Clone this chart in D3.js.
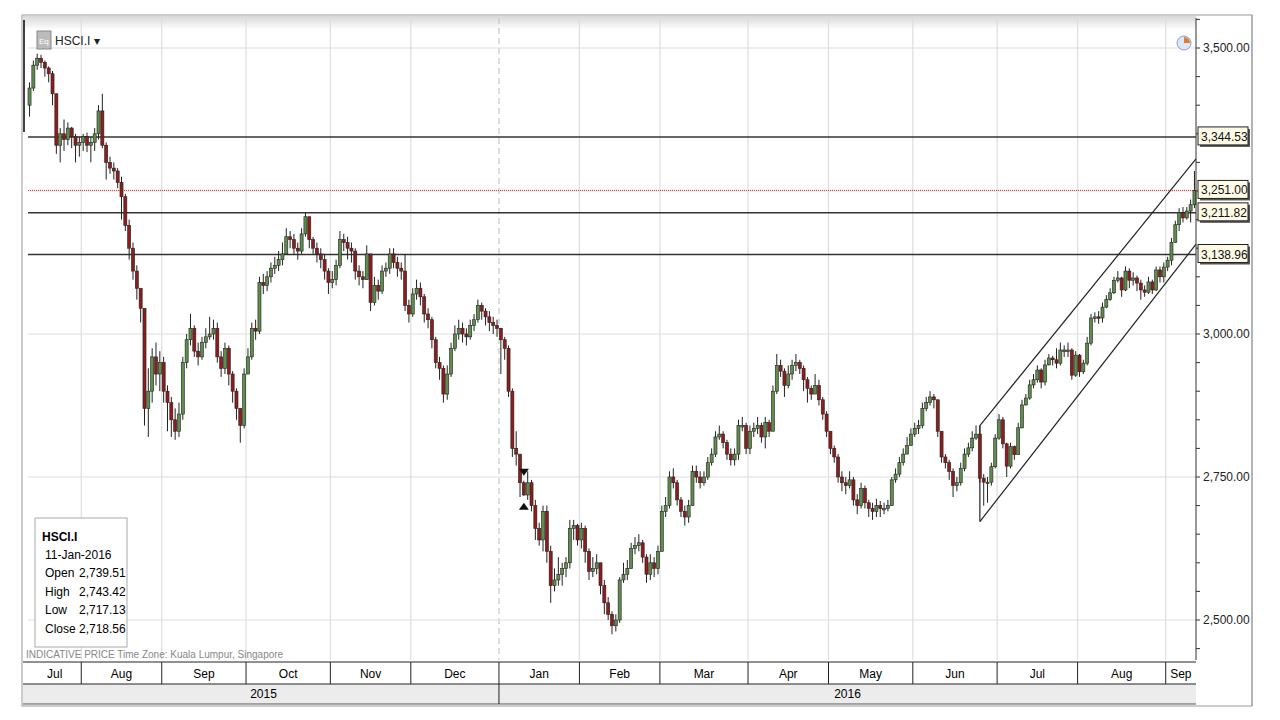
<!DOCTYPE html>
<html><head><meta charset="utf-8">
<script src="https://cdn.jsdelivr.net/npm/d3@7"></script>
<style>body{margin:0;background:#fff}text{font-family:"Liberation Sans Narrow","Liberation Sans",sans-serif}</style>
</head><body><svg id="c" width="1280" height="720"></svg>
<script>
// [close, high, low] per trading day, month by month
const jul15=[[3430,3440,3380],[3470,3478,3425],[3482,3490,3462],[3475,3488,3465],[3465,3478,3450],[3455,3468,3440],[3420,3460,3400],[3330,3420,3315],[3350,3360,3300],[3340,3375,3320],[3360,3370,3330],[3345,3362,3325],[3330,3350,3300],[3335,3345,3310]];
const aug15=[[3345,3350,3320],[3330,3352,3318],[3335,3345,3300],[3350,3360,3320],[3390,3400,3340],[3330,3420,3325],[3300,3335,3270],[3290,3310,3280],[3285,3300,3270],[3265,3290,3255],[3240,3275,3200],[3190,3245,3180],[3150,3200,3130],[3110,3160,3095],[3080,3120,3060],[3045,3060,3020],[2870,2960,2840],[2900,2940,2820],[2960,2975,2880],[2930,2985,2910],[2950,2970,2900]];
const sep15=[[2900,2960,2880],[2880,2910,2830],[2850,2890,2820],[2830,2870,2815],[2860,2880,2820],[2950,2960,2850],[2990,3000,2940],[3010,3035,2980],[2970,3015,2960],[2960,2985,2945],[2985,2995,2955],[2995,3010,2975],[3000,3030,2990],[3010,3025,2990],[2960,3020,2950],[2940,2970,2925],[2975,2985,2930],[2930,2980,2910],[2900,2935,2880],[2870,2905,2850],[2840,2870,2810],[2930,2940,2835]];
const oct15=[[2960,2975,2930],[3010,3020,2955],[3005,3025,2990],[3090,3100,3000],[3085,3105,3070],[3100,3110,3075],[3115,3125,3090],[3120,3135,3105],[3130,3145,3110],[3140,3160,3120],[3170,3185,3140],[3165,3180,3150],[3150,3175,3140],[3145,3160,3130],[3175,3185,3140],[3205,3212,3170],[3165,3205,3150],[3150,3170,3140],[3140,3160,3125],[3130,3150,3115],[3110,3140,3095],[3090,3115,3070]];
const nov15=[[3095,3110,3080],[3120,3130,3085],[3165,3180,3115],[3160,3175,3145],[3150,3170,3130],[3145,3160,3125],[3110,3150,3095],[3100,3120,3085],[3095,3110,3080],[3140,3155,3095],[3055,3090,3040],[3085,3100,3050],[3075,3095,3060],[3110,3120,3070],[3115,3125,3100],[3140,3150,3105],[3125,3150,3115],[3115,3135,3100],[3110,3125,3095],[3050,3140,3040],[3035,3060,3020]];
const dec15=[[3070,3080,3030],[3080,3095,3060],[3065,3090,3050],[3035,3070,3020],[3025,3045,3010],[2990,3030,2975],[2950,2995,2940],[2940,2960,2920],[2895,2945,2880],[2930,2945,2885],[2975,2985,2925],[3000,3015,2970],[3010,3025,2990],[3000,3020,2985],[2995,3010,2980],[3015,3025,2990],[3025,3035,3005],[3050,3060,3020],[3040,3055,3025],[3030,3045,3015],[3020,3040,3005],[3015,3030,3000],[3010,3025,2995]];
const jan16=[[2990,3010,2930],[2975,2995,2955],[2900,2980,2890],[2800,2905,2785],[2790,2830,2770],[2740,2760,2715],[2718.56,2743.42,2717.13],[2740,2760,2710],[2700,2745,2690],[2660,2710,2640],[2640,2670,2630],[2690,2700,2620],[2620,2700,2600],[2560,2630,2530],[2570,2590,2550],[2580,2610,2560],[2590,2600,2560],[2600,2610,2575],[2660,2675,2590],[2665,2675,2640],[2640,2668,2630]];
const feb16=[[2660,2670,2625],[2620,2665,2600],[2585,2625,2570],[2590,2610,2575],[2600,2615,2580],[2560,2600,2545],[2530,2570,2510],[2510,2540,2500],[2490,2515,2475],[2500,2510,2480],[2570,2575,2495],[2580,2600,2565],[2590,2605,2570],[2625,2635,2590],[2630,2645,2615],[2635,2650,2620],[2610,2640,2600],[2580,2615,2565],[2600,2615,2570],[2590,2610,2575],[2620,2630,2580]];
const mar16=[[2690,2700,2620],[2700,2715,2680],[2750,2760,2695],[2740,2765,2730],[2710,2745,2700],[2690,2715,2680],[2680,2700,2665],[2700,2710,2670],[2760,2770,2700],[2750,2770,2740],[2740,2760,2730],[2750,2760,2735],[2775,2785,2745],[2790,2800,2770],[2820,2830,2785],[2825,2840,2815],[2810,2830,2800],[2790,2815,2780],[2780,2800,2770],[2790,2800,2770],[2840,2850,2780],[2840,2855,2830],[2800,2845,2790]];
const apr16=[[2830,2840,2790],[2835,2845,2820],[2840,2855,2825],[2820,2845,2810],[2845,2855,2800],[2830,2850,2820],[2900,2910,2830],[2945,2965,2895],[2935,2955,2925],[2910,2940,2890],[2930,2945,2905],[2945,2955,2920],[2950,2965,2935],[2940,2955,2930],[2920,2945,2900],[2905,2925,2880],[2895,2910,2885],[2910,2930,2895],[2885,2920,2875],[2860,2890,2850],[2830,2865,2820]];
const may16=[[2800,2830,2790],[2785,2805,2775],[2750,2790,2740],[2740,2760,2725],[2735,2750,2720],[2745,2760,2730],[2710,2750,2700],[2700,2720,2685],[2730,2740,2695],[2705,2735,2695],[2695,2710,2680],[2690,2705,2675],[2700,2712,2680],[2695,2708,2680],[2695,2705,2685],[2700,2710,2690],[2745,2750,2700],[2755,2765,2740],[2775,2785,2750],[2790,2800,2770],[2805,2820,2795],[2825,2835,2805]];
const jun16=[[2835,2845,2820],[2840,2850,2825],[2870,2880,2835],[2880,2890,2865],[2890,2900,2875],[2885,2895,2870],[2830,2885,2820],[2785,2830,2775],[2775,2790,2765],[2760,2780,2745],[2735,2765,2715],[2740,2750,2725],[2765,2775,2735],[2790,2800,2760],[2801,2810,2785],[2818,2830,2795],[2825,2840,2815],[2748,2840,2740],[2741,2755,2700],[2741,2750,2705],[2768,2775,2735],[2818,2825,2765]];
const jul16=[[2850,2860,2815],[2808,2855,2800],[2769,2810,2750],[2803,2810,2765],[2789,2805,2780],[2836,2845,2790],[2876,2885,2835],[2888,2895,2875],[2911,2920,2885],[2920,2930,2905],[2937,2945,2915],[2916,2940,2905],[2946,2955,2910],[2958,2965,2945],[2955,2962,2945],[2949,2975,2940],[2972,2985,2945],[2972,2980,2960],[2972,2985,2960],[2928,2975,2920],[2963,2970,2925]];
const aug16=[[2934,2965,2925],[2949,2955,2930],[2984,2995,2945],[3028,3035,2980],[3030,3038,3020],[3028,3040,3018],[3047,3055,3020],[3060,3068,3045],[3072,3080,3058],[3094,3100,3070],[3098,3110,3090],[3077,3100,3065],[3110,3118,3075],[3094,3115,3080],[3098,3108,3085],[3089,3102,3075],[3077,3095,3060],[3073,3085,3065],[3091,3100,3070],[3077,3095,3070],[3112,3118,3075],[3100,3118,3090],[3117,3125,3090]];
const sep16=[[3129,3135,3110],[3160,3168,3120],[3191,3198,3160],[3212,3220,3180],[3203,3222,3195],[3215,3222,3200],[3226,3235,3195],[3251,3285,3220]];
const firstOpen=3400;
const levels=[3344.53,3211.82,3138.96];
const lastPrice=3251.00;
const yTicks=[2500,2750,3000,3250,3500];
const yTickLabels=["2,500.00","2,750.00","3,000.00","","3,500.00"];
const channelUpper=[["2016-06-24",2840],["2016-09-13",3306]];
const channelLower=[["2016-06-24",2672],["2016-09-13",3157]];
const info=[["Open","2,739.51"],["High","2,743.42"],["Low","2,717.13"],["Close","2,718.56"]];

const months=[jul15,aug15,sep15,oct15,nov15,dec15,jan16,feb16,mar16,apr16,may16,jun16,jul16,aug16,sep16];
// trading dates (weekdays)
const dates=[];
for(let d=new Date(2015,6,14);d<=new Date(2016,8,12);d=new Date(d.getFullYear(),d.getMonth(),d.getDate()+1)){const w=d.getDay();if(w>0&&w<6)dates.push(d);}
const flat=months.flat();
const data=flat.map((r,i)=>({date:dates[i],c:r[0],h:r[1],l:r[2],o:i?flat[i-1][0]:firstOpen}));

const L=28,R=1196,T=18,B=660;
const svg=d3.select("#c");
const x=d3.scaleBand().domain(d3.range(data.length)).range([L,R]).paddingInner(0.2);
const y=d3.scaleLinear().domain([2500,3500]).range([620,48]);
const cx=i=>x(i)+x.bandwidth()/2;
// frame
svg.append("rect").attr("x",22).attr("y",15).attr("width",1230).attr("height",691).attr("fill","#fff").attr("stroke","#9a9a9a");
const grad=svg.append("defs").append("linearGradient").attr("id","hg").attr("x1",0).attr("y1",0).attr("x2",0).attr("y2",1);
grad.append("stop").attr("offset",0).attr("stop-color","#d8d8d8");grad.append("stop").attr("offset",1).attr("stop-color","#fff");
svg.append("rect").attr("x",23).attr("y",16).attr("width",1173).attr("height",14).attr("fill","url(#hg)");
svg.append("line").attr("x1",24).attr("x2",24).attr("y1",20).attr("y2",132).attr("stroke","#000").attr("stroke-width",1.5);
// month boundaries
const monthStarts=[];data.forEach((d,i)=>{if(i===0||d.date.getMonth()!==data[i-1].date.getMonth())monthStarts.push(i);});
const bx=i=>i===0?L:x(i)-x.step()*0.1;
const g=svg.append("g");
monthStarts.slice(1).forEach(i=>{const yr=data[i].date.getMonth()===0;g.append("line").attr("x1",bx(i)).attr("x2",bx(i)).attr("y1",T).attr("y2",B).attr("stroke",yr?"#c8c8c8":"#dedede").attr("stroke-width",1.2).attr("stroke-dasharray",yr?"6,4":null);});
yTicks.forEach(t=>g.append("line").attr("x1",L).attr("x2",R).attr("y1",y(t)).attr("y2",y(t)).attr("stroke","#dedede").attr("stroke-width",1.2));
// level lines
levels.forEach(v=>g.append("line").attr("x1",L).attr("x2",R).attr("y1",y(v)).attr("y2",y(v)).attr("stroke","#333").attr("stroke-width",1.5));
g.append("line").attr("x1",L).attr("x2",R).attr("y1",y(lastPrice)).attr("y2",y(lastPrice)).attr("stroke","#e03030").attr("stroke-width",1).attr("stroke-dasharray","1,1");
// channel
const parse=d3.timeParse("%Y-%m-%d");
const xd=s=>{const t=parse(s);let i=d3.bisector(d=>d.date).left(data,t);return i>=data.length?R:cx(i);};
[channelUpper,channelLower].forEach(c=>g.append("line").attr("x1",xd(c[0][0])).attr("y1",y(c[0][1])).attr("x2",xd(c[1][0])).attr("y2",y(c[1][1])).attr("stroke","#222").attr("stroke-width",1.2));
g.append("line").attr("x1",xd(channelUpper[0][0])).attr("x2",xd(channelUpper[0][0])).attr("y1",y(channelUpper[0][1])).attr("y2",y(channelLower[0][1])).attr("stroke","#222").attr("stroke-width",1.2);
// candles
const cg=svg.append("g");
data.forEach((d,i)=>{
  cg.append("line").attr("x1",cx(i)).attr("x2",cx(i)).attr("y1",y(d.h)).attr("y2",y(d.l)).attr("stroke","#222").attr("stroke-width",1);
  const top=y(Math.max(d.o,d.c)),bot=y(Math.min(d.o,d.c));
  cg.append("rect").attr("x",x(i)).attr("width",x.bandwidth()).attr("y",top).attr("height",Math.max(1.5,bot-top))
   .attr("fill",d.c>=d.o?"#5e8d4c":"#8e1c1c").attr("stroke","#222").attr("stroke-width",0.6);
});
// markers on 11-Jan
const mi=data.findIndex(d=>d.date.getFullYear()===2016&&d.date.getMonth()===0&&d.date.getDate()===11);
const mx=cx(mi);
svg.append("path").attr("d",`M${mx-5},${y(data[mi].h)-12}h10l-5,7z`).attr("fill","#111");
svg.append("path").attr("d",`M${mx-5},${y(data[mi].l)+14}h10l-5,-7z`).attr("fill","#111");
// right axis
const ax=svg.append("g");
ax.append("line").attr("x1",R).attr("x2",R).attr("y1",T).attr("y2",B).attr("stroke","#333");
d3.range(2450,3551,50).forEach(t=>{if(y(t)>T&&y(t)<B)ax.append("line").attr("x1",R).attr("x2",R+4).attr("y1",y(t)).attr("y2",y(t)).attr("stroke","#333");});
yTicks.forEach((t,k)=>{if(yTickLabels[k])ax.append("text").attr("x",R+7).attr("y",y(t)+4).attr("font-size",12).attr("fill","#222").text(yTickLabels[k]);});
levels.concat([lastPrice]).forEach(v=>{
  const yy=y(v);
  ax.append("rect").attr("x",R+4).attr("y",yy-8).attr("width",50).attr("height",18).attr("fill","#555");
  ax.append("rect").attr("x",R+2).attr("y",yy-10).attr("width",50).attr("height",18).attr("fill","#fffbe6").attr("stroke","#222");
  ax.append("text").attr("x",R+5).attr("y",yy+4).attr("font-size",12).attr("fill","#111").text(d3.format(",.2f")(v));
});
svg.append("line").attr("x1",1252).attr("x2",1252).attr("y1",15).attr("y2",706).attr("stroke","#9a9a9a");
// clock icon
svg.append("circle").attr("cx",1184).attr("cy",43).attr("r",7).attr("fill","#dde6f4").attr("stroke","#8aa0c8");
svg.append("path").attr("d","M1184,43V37A6,6 0 0 1 1190,43Z").attr("fill","#e07a3a");
// title
svg.append("rect").attr("x",37).attr("y",31).attr("width",14).attr("height",18).attr("fill","#bbb").attr("stroke","#888");
svg.append("text").attr("x",39).attr("y",44).attr("font-size",8).attr("fill","#fff").text("Eq");
svg.append("text").attr("x",55).attr("y",45).attr("font-size",12).attr("fill","#222").text("HSCI.I ▾");
// info box
const ib=svg.append("g");
ib.append("rect").attr("x",35).attr("y",518).attr("width",92).attr("height",129).attr("fill","#fff").attr("stroke","#aaa");
ib.append("text").attr("x",42).attr("y",541).attr("font-size",12).attr("font-weight","bold").text("HSCI.I");
ib.append("text").attr("x",45).attr("y",559).attr("font-size",12).text("11-Jan-2016");
info.forEach((r,k)=>{ib.append("text").attr("x",45).attr("y",577+k*18.5).attr("font-size",12).text(r[0]);ib.append("text").attr("x",79).attr("y",577+k*18.5).attr("font-size",12).text(r[1]);});
svg.append("text").attr("x",26).attr("y",658).attr("font-size",10).attr("fill","#888").text("INDICATIVE PRICE   Time Zone: Kuala Lumpur, Singapore");
// bottom axis
const bt=svg.append("g");
bt.append("rect").attr("x",23).attr("y",684).attr("width",R-23).attr("height",20).attr("fill","#ececec");
bt.append("line").attr("x1",23).attr("x2",R).attr("y1",662).attr("y2",662).attr("stroke","#222");
bt.append("line").attr("x1",23).attr("x2",R).attr("y1",684).attr("y2",684).attr("stroke","#222");
bt.append("line").attr("x1",23).attr("x2",R).attr("y1",704).attr("y2",704).attr("stroke","#555");
const fmt=d3.timeFormat("%b");
monthStarts.forEach((s,k)=>{
  const e=k+1<monthStarts.length?bx(monthStarts[k+1]):R;const b=bx(s);
  if(k>0)bt.append("line").attr("x1",b).attr("x2",b).attr("y1",662).attr("y2",684).attr("stroke","#222");
  bt.append("text").attr("x",(b+e)/2).attr("y",678).attr("text-anchor","middle").attr("font-size",12).text(fmt(data[s].date));
});
const yb=bx(data.findIndex(d=>d.date.getFullYear()===2016));
bt.append("line").attr("x1",yb).attr("x2",yb).attr("y1",684).attr("y2",704).attr("stroke","#222");
bt.append("text").attr("x",(L+yb)/2).attr("y",698).attr("text-anchor","middle").attr("font-size",12).text("2015");
bt.append("text").attr("x",(yb+R)/2).attr("y",698).attr("text-anchor","middle").attr("font-size",12).text("2016");
</script></body></html>
